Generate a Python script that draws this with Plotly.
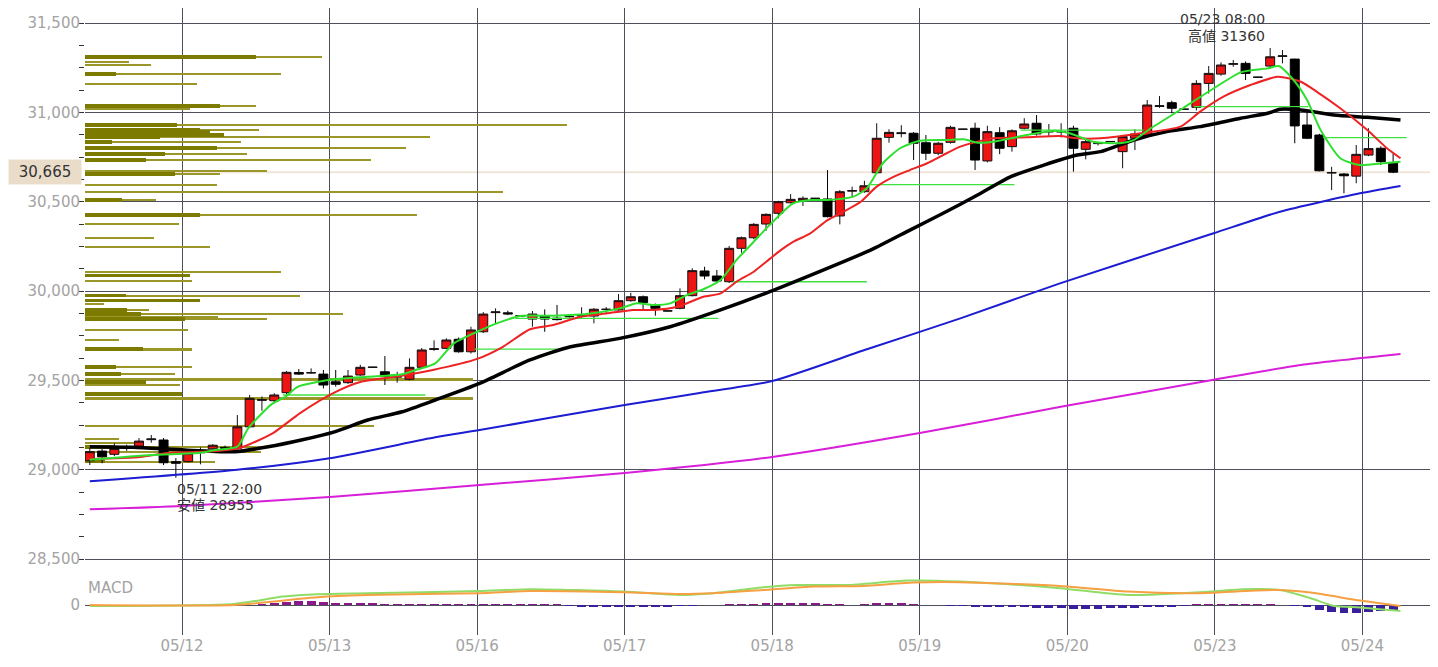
import plotly.graph_objects as go

# ---------------- candles: 2-hour bars, index 0 = 05/11 08:00 ----------------
opens = [29050,29104,29086,29120,29132,29168,29166,29045,29045,29095,29117,29125,29120,29240,29388,29386,29431,29544,29541,29535,
         29492,29487,29530,29572,29548,29518,29506,29573,29673,29679,29730,29660,29772,29879,29878,29860,29843,29862,29848,29856,
         29860,29860,29896,29894,29946,29968,29921,29888,29903,29974,30112,30084,30052,30239,30298,30375,30435,30494,30505,30518,
         30515,30420,30559,30556,30662,30860,30881,30883,30830,30771,30832,30905,30911,30728,30886,30808,30911,30939,30890,30890,
         30911,30793,30825,30836,30780,30855,30868,31033,31054,31017,31028,31162,31214,31269,31274,31196,31259,31313,31298,30929,
         30873,30660,30655,30643,30761,30799,30715]
highs = [29121,29116,29148,29140,29177,29194,29177,29065,29101,29125,29143,29135,29306,29418,29410,29428,29552,29563,29567,29558,
         29558,29558,29587,29576,29636,29548,29623,29681,29724,29735,29740,29800,29882,29903,29890,29862,29888,29897,29922,29860,
         29909,29905,29910,29983,29990,29975,29930,29890,30015,30127,30136,30118,30252,30305,30380,30435,30505,30543,30530,30520,
         30677,30565,30584,30617,30939,30905,30928,30890,30873,30835,30925,30907,30942,30925,30917,30905,30967,30985,30935,30939,
         30925,30845,30835,30838,30870,30905,31069,31091,31065,31019,31180,31259,31280,31293,31285,31198,31360,31349,31300,31004,
         30880,30695,30660,30817,30911,30810,30770]
lows = [29026,29036,29076,29105,29125,29151,29026,28955,29040,29030,29110,29110,29110,29233,29330,29375,29418,29530,29538,29455,
        29465,29480,29525,29570,29474,29487,29500,29570,29665,29675,29655,29650,29765,29819,29865,29858,29800,29772,29835,29852,
        29850,29819,29875,29890,29940,29897,29862,29885,29898,29970,30065,30050,30045,30214,30290,30337,30407,30490,30476,30515,
        30412,30373,30528,30550,30655,30830,30860,30733,30733,30760,30825,30903,30677,30720,30766,30780,30905,30870,30866,30860,
        30668,30737,30815,30834,30687,30789,30860,31025,30995,31015,31010,31105,31205,31255,31181,31194,31250,31274,30827,30850,
        30670,30565,30547,30603,30755,30705,30660]
closes = [29101,29072,29119,29125,29160,29172,29039,29036,29092,29098,29137,29120,29240,29399,29392,29418,29545,29535,29543,29474,
          29478,29524,29573,29574,29521,29522,29573,29670,29677,29726,29660,29782,29871,29883,29872,29861,29871,29843,29840,29857,
          29863,29898,29898,29946,29968,29935,29903,29889,29974,30114,30084,30056,30239,30298,30373,30429,30500,30513,30519,30519,
          30416,30556,30562,30589,30855,30888,30885,30827,30771,30827,30916,30906,30733,30892,30799,30897,30935,30879,30893,30892,
          30799,30836,30828,30837,30864,30879,31041,31037,31023,31018,31162,31218,31265,31272,31218,31197,31311,31316,30924,30855,
          30673,30663,30645,30765,30797,30724,30665]
bar_idx = list(range(len(closes)))

# day separators / labels (bar-index position of midnight)
day_pos = [7.5, 19.5, 31.5, 43.5, 55.5, 67.5, 79.5, 91.5, 103.5]
day_labels = ["05/12", "05/13", "05/16", "05/17", "05/18", "05/19", "05/20", "05/23", "05/24"]
x_range = [-0.39, 109.65]
price_range = [28433, 31584]
price_ticks = [28500, 29000, 29500, 30000, 30500, 31000, 31500]

high_time = "05/23 08:00"
low_time = "05/11 22:00"
last_price = 30665

# ---------------- moving averages: (bar index, price) ----------------
ma_green = [(0,29055),(5,29082),(9,29095),(10.2,29110),(12,29129),(12.9,29233),(14.8,29367),(15.9,29408),(16.9,29464),
            (18.6,29492),(19.9,29506),(22.6,29520),(25.4,29534),(26.7,29562),(28.1,29595),(29.6,29707),(31.5,29772),
            (33.1,29819),(35,29860),(37.7,29862),(40.4,29871),(43.1,29903),(44.5,29931),(45.8,29922),(47.2,29931),
            (48.6,29978),(49.9,30010),(51.3,30062),(52.6,30174),(54,30276),(55.3,30370),(57.2,30490),
            (58.6,30509),(60,30509),(62.1,30528),(63.2,30575),(64.5,30715),(65.9,30799),(67.5,30841),(69.7,30845),
            (71.1,30849),(72.2,30830),(73.5,30836),(76.2,30873),(78.4,30897),(79.7,30883),(81.6,30836),(83.8,30827),
            (84.9,30845),(86.3,30911),(88.9,31023),(91.2,31125),(93.6,31224),(95.8,31246),(96.7,31259),(97.9,31181),
            (99,31069),(100.1,30901),(101.7,30743),(103.3,30705),(105.2,30715),(106.6,30724)]
ma_red = [(0,29060),(4.1,29071),(6.3,29093),(10.3,29104),(12.2,29121),(14.9,29205),(17.1,29317),(19.8,29429),(22,29491),
          (25.2,29524),(27.9,29558),(31.5,29620),(33.6,29688),(35.8,29786),(37.7,29810),(39.9,29856),(42.1,29875),
          (44.2,29894),(45.8,29894),(47.8,29912),(49.9,29968),(51.3,29987),(52.6,30052),(54,30108),(55.3,30180),
          (56.2,30229),(57.2,30275),(58.6,30323),(60,30397),(61.3,30444),(62.7,30500),(64,30584),(65.4,30640),
          (66.7,30677),(68.1,30715),(69.4,30761),(70.8,30808),(72.2,30836),(73.5,30855),(76.2,30860),(78.9,30868),
          (80.3,30855),(82.2,30855),(85.5,30883),(88.7,30920),(90.3,31004),(92.2,31088),(94.4,31153),(96.6,31199),
          (98.5,31171),(99.8,31115),(101.7,31023),(103.9,30901),(105.5,30799),(106.6,30743)]
ma_black = [(0,29128),(3.5,29125),(7.7,29110),(11.8,29101),(14.5,29128),(17.2,29166),(19.9,29212),(22.6,29278),
            (25.4,29324),(28.1,29390),(31.7,29483),(35.8,29614),(39.1,29688),(43.1,29735),(47.2,29800),(51.3,29894),
            (55.3,29996),(63.5,30229),(66.7,30341),(69.4,30435),(72.2,30537),(74.9,30640),(77.6,30705),(80.3,30761),
            (82.2,30780),(84.9,30845),(87.6,30892),(90.3,30920),(93.6,30967),(95.8,30995),(96.8,31017),(98.5,31013),
            (101.2,30985),(103.9,30972),(106.6,30957)]
ma_blue = [(0,28935),(11.8,28998),(19.5,29064),(28.1,29181),(31.7,29222),(43.5,29362),(49.6,29429),(55.5,29496),
           (63.2,29674),(70.8,29847),(78.9,30043),(91.4,30323),(96.8,30444),(103.3,30547),(106.6,30588)]
ma_magenta = [(0,28778),(7.5,28797),(19.8,28849),(31.7,28914),(43.5,28981),(55.5,29071),(67.5,29205),(79.3,29356),
              (91.3,29502),(98.5,29586),(106.6,29647)]

# horizontal green levels: (start index, end index, price)
green_levels = [(15.7,27.3,29418),(31.3,38.7,29675),(34.6,51.1,29847),(52.3,63.2,30052),(63.5,75.2,30596),
                (75.7,85.7,30901),(89.8,99.1,31032),(100.3,107.1,30858)]

# ---------------- price-volume profile (price, thin total, thick part) ----------------
vp_price = [31310,31282,31265,31215,31159,31035,31019,30929,30901,30890,30873,30862,30834,30800,30767,30733,30672,30655,
            30593,30557,30509,30425,30375,30297,30246,30110,30088,30056,29976,29946,29931,29894,29873,29856,29843,29782,
            29726,29674,29576,29537,29506,29491,29474,29424,29400,29244,29172,29151,29127,29099,29045]
vp_total = [237,44,66,196,112,171,105,482,174,0,0,345,156,321,162,286,182,135,132,418,71,332,94,69,125,196,0,107,215,0,19,
            64,258,133,182,103,34,107,107,90,388,0,95,0,388,289,34,54,176,176,130]
vp_part = [171,0,0,31,0,135,0,92,115,125,139,75,27,132,80,61,0,90,0,0,37,115,0,0,0,0,105,0,41,115,0,42,56,0,100,0,0,58,
           31,36,0,61,0,97,0,0,0,0,30,0,20]
vp_scale_max = 1353

# ---------------- MACD (bar index, value) ----------------
macd_line = [(0,-5),(11.7,5),(15.7,42),(18.5,54),(22.5,59),(31.7,70),(35.8,79),(43.4,67),(48,50),(50.7,59),(54.8,89),
             (57.5,100),(61.6,100),(66.5,122),(70.8,117),(78.9,84),(84.4,50),(91.1,67),(93.8,79),(96.8,75),(99.3,34),
             (101.2,-5),(103.3,-12),(106.6,-30)]
macd_signal = [(0,0),(11.7,0),(18.5,39),(22.5,50),(31.7,59),(35.8,70),(43.4,64),(48,55),(50.7,59),(54.8,75),(58.9,92),
               (62.9,95),(67,112),(70.8,114),(78.9,95),(84.4,67),(89.8,59),(96.6,75),(99.3,62),(103.3,22),(106.6,-5)]
macd_hist = [0,0,0,0,0,0,0,0,0,0,0,0,0,0,
             5,10,15,18,18,15,12,10,8,6,
             3,3,3,3,3,3,3,3,3,3,3,3,3,3,3,
             -5,-8,-8,-8,-8,-10,-10,-12,-10,-5,-3,
             0,0,2,
             3,5,8,10,12,10,8,4,2,
             0,
             3,6,8,6,3,
             0,0,-2,
             -5,-8,-10,-12,-12,-12,-14,-15,-16,-18,-18,-18,-16,-15,-14,-12,-10,-8,-5,
             2,2,3,3,2,2,1,0,
             -5,-12,-25,-35,-40,-40,-35,-30,-25]
macd_range = [-150, 170]

FONT = "DejaVu Sans, Verdana, Noto Sans CJK JP, sans-serif"
GRID = "#4d4f5c"
TICK_GREY = "#a3a3a3"

fig = go.Figure()

# volume profile on the base subplot (x, y) so it sits behind the candles
fig.add_trace(go.Bar(y=vp_price, x=vp_total, orientation="h", width=9, marker_color="#9b9628",
                     marker_line_width=0, xaxis="x", yaxis="y", showlegend=False, hoverinfo="skip"))
fig.add_trace(go.Bar(y=vp_price, x=vp_part, orientation="h", width=20, marker_color="#7d7a00",
                     marker_line_width=0, xaxis="x", yaxis="y", showlegend=False, hoverinfo="skip"))

def ma_trace(pts, color, width):
    return go.Scatter(x=[p[0] for p in pts], y=[p[1] for p in pts], mode="lines",
                      line=dict(color=color, width=width, shape="spline", smoothing=0.6),
                      xaxis="x2", yaxis="y", showlegend=False, hoverinfo="skip")

fig.add_trace(ma_trace(ma_magenta, "#d81ed8", 2))
fig.add_trace(ma_trace(ma_blue, "#1c1cd2", 2))
for (a, b, lvl) in green_levels:
    fig.add_trace(go.Scatter(x=[a, b], y=[lvl, lvl], mode="lines", line=dict(color="#3ee23e", width=1.3),
                             xaxis="x2", yaxis="y", showlegend=False, hoverinfo="skip"))
fig.add_trace(ma_trace(ma_black, "#000000", 3.5))

fig.add_trace(go.Candlestick(
    x=bar_idx, open=opens, high=highs, low=lows, close=closes,
    increasing=dict(fillcolor="#ee1414", line=dict(color="#111111", width=1)),
    decreasing=dict(fillcolor="#000000", line=dict(color="#000000", width=1)),
    whiskerwidth=0, xaxis="x2", yaxis="y", showlegend=False, hoverinfo="skip"))

fig.add_trace(ma_trace(ma_red, "#ee2222", 2))
fig.add_trace(ma_trace(ma_green, "#2ee02e", 2))

# MACD panel
fig.add_trace(go.Bar(x=bar_idx, y=macd_hist, width=0.72,
                     marker_color=["#8a1a8a" if v >= 0 else "#3a1f9c" for v in macd_hist],
                     marker_line_width=0, xaxis="x3", yaxis="y2", showlegend=False, hoverinfo="skip"))
fig.add_trace(go.Scatter(x=[p[0] for p in macd_line], y=[p[1] for p in macd_line], mode="lines",
                         line=dict(color="#8fdd66", width=2, shape="spline", smoothing=0.6),
                         xaxis="x3", yaxis="y2", showlegend=False, hoverinfo="skip"))
fig.add_trace(go.Scatter(x=[p[0] for p in macd_signal], y=[p[1] for p in macd_signal], mode="lines",
                         line=dict(color="#f5a043", width=2, shape="spline", smoothing=0.6),
                         xaxis="x3", yaxis="y2", showlegend=False, hoverinfo="skip"))

hi_i = highs.index(max(highs))
lo_i = lows.index(min(lows))

# page body has an 8px margin: figure drawn 8px in from the window's top-left
PLOT_H = 627
main_bottom = 64 / PLOT_H
ann_font = dict(family=FONT, size=14, color="#333333")

fig.update_layout(
    width=1430, height=659,
    margin=dict(l=77, r=0, t=0, b=32, autoexpand=False),
    paper_bgcolor="white", plot_bgcolor="white",
    font=dict(family=FONT, size=15, color=TICK_GREY),
    barmode="overlay", bargap=0, boxgap=0.27, boxgroupgap=0,
    xaxis=dict(domain=[0, 1], anchor="y", range=[0, vp_scale_max], visible=False, fixedrange=True, automargin=False),
    xaxis2=dict(overlaying="x", anchor="y", range=x_range, tickvals=day_pos, showticklabels=False,
                showgrid=True, gridcolor=GRID, gridwidth=1, zeroline=False, ticks="", automargin=False,
                rangeslider=dict(visible=False)),
    xaxis3=dict(domain=[0, 1], anchor="y2", range=x_range, tickvals=day_pos, ticktext=day_labels,
                showgrid=True, gridcolor=GRID, gridwidth=1, zeroline=False, ticks="", automargin=False,
                tickfont=dict(size=15, color=TICK_GREY)),
    yaxis=dict(domain=[main_bottom, 1], anchor="x", range=price_range, tickvals=price_ticks,
               tickformat=",d", showgrid=True, gridcolor=GRID, gridwidth=1, zeroline=False, ticks="", automargin=False,
               ticklabelstandoff=4, tickfont=dict(size=15, color=TICK_GREY),
               minor=dict(dtick=125, tick0=0, ticks="outside", ticklen=5, tickcolor="#333333", showgrid=False)),
    yaxis2=dict(domain=[0, main_bottom], anchor="x3", range=macd_range, tickvals=[0, macd_range[1]], ticktext=["0", ""],
                showgrid=True, gridcolor=GRID, gridwidth=1, zeroline=False, ticks="", automargin=False,
                ticklabelstandoff=4, tickfont=dict(size=15, color=TICK_GREY)),
    shapes=[dict(type="line", xref="paper", yref="y", x0=0, x1=1, y0=last_price, y1=last_price,
                 line=dict(color="#efe5d8", width=2), layer="below")],
    annotations=[
        dict(xref="x2", yref="y", x=hi_i, y=highs[hi_i], xanchor="right", yanchor="bottom", xshift=-3, yshift=19,
             text=high_time, showarrow=False, font=ann_font),
        dict(xref="x2", yref="y", x=hi_i, y=highs[hi_i], xanchor="right", yanchor="bottom", xshift=-3, yshift=2,
             text=f"高値 {highs[hi_i]}", showarrow=False, font=ann_font),
        dict(xref="x2", yref="y", x=lo_i, y=lows[lo_i], xanchor="left", yanchor="top", xshift=-1, yshift=-1,
             text=low_time, showarrow=False, font=ann_font),
        dict(xref="x2", yref="y", x=lo_i, y=lows[lo_i], xanchor="left", yanchor="top", xshift=-1, yshift=-17,
             text=f"安値 {lows[lo_i]}", showarrow=False, font=ann_font),
        dict(xref="paper", yref="y", x=0, y=last_price, xanchor="right", yanchor="middle", xshift=-3,
             text=f"{last_price:,}", showarrow=False, bgcolor="#e9ddca", borderpad=3, width=66,
             font=dict(family=FONT, size=15, color="#333333")),
        dict(xref="paper", yref="y2", x=0, y=85, xanchor="left", yanchor="middle", xshift=1,
             text="MACD", showarrow=False, font=dict(family=FONT, size=15, color=TICK_GREY)),
    ],
)

fig.write_html("out.html")
